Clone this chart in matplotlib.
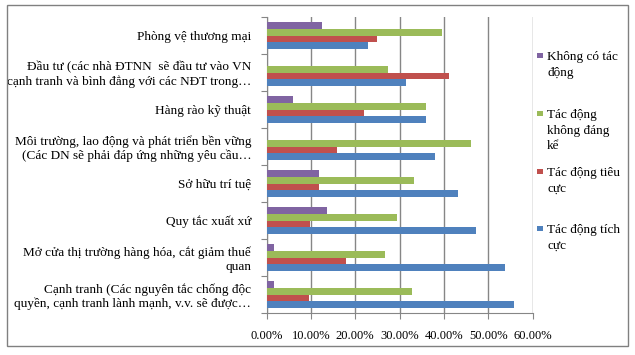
import numpy as np
import matplotlib
matplotlib.use("Agg")
from matplotlib import pyplot as plt
from matplotlib.patches import Rectangle

plt.rcParams['font.family'] = ['Liberation Serif', 'DejaVu Serif']

categories = [
    "Cạnh tranh (Các nguyên tắc chống độc\nquyền, cạnh tranh lành mạnh, v.v. sẽ được…",
    "Mở cửa thị trường hàng hóa, cắt giảm thuế\nquan",
    "Quy tắc xuất xứ",
    "Sở hữu trí tuệ",
    "Môi trường, lao động và phát triển bền vững\n(Các DN sẽ phải đáp ứng những yêu cầu…",
    "Hàng rào kỹ thuật",
    "Đầu tư (các nhà ĐTNN  sẽ đầu tư vào VN\ncạnh tranh và bình đẳng với các NĐT trong…",
    "Phòng vệ thương mại",
]
series_names = ["Tác động tích\ncực", "Tác động tiêu\ncực", "Tác động\nkhông đáng\nkể", "Không có tác\nđộng"]
tich_cuc = [55.8, 53.8, 47.2, 43.2, 38.0, 35.9, 31.4, 22.9]
tieu_cuc = [9.5, 17.9, 9.8, 11.8, 15.9, 22.0, 41.1, 24.9]
khong_dang_ke = [32.8, 26.7, 29.4, 33.2, 46.1, 35.9, 27.4, 39.5]
khong_tac_dong = [1.65, 1.65, 13.6, 11.8, 0, 5.9, 0, 12.5]
colors = ["#4F81BD", "#C0504D", "#9BBB59", "#8064A2"]
xticks = [0, 10, 20, 30, 40, 50, 60]

W, H = 635, 355
fig = plt.figure(figsize=(W / 100, H / 100), dpi=100)
fig.patches.append(Rectangle((7/W, 1-346/H), 621/W, 341/H, transform=fig.transFigure,
                             fill=False, edgecolor="#808080", linewidth=1))
ax = fig.add_axes([266.5/W, 1-313/H, 266/W, 296/H])

y = np.arange(len(categories))
h = 0.18
for i, vals in enumerate([tich_cuc, tieu_cuc, khong_dang_ke, khong_tac_dong]):
    ax.barh(y + (i - 1.5) * h, vals, height=h, color=colors[i], label=series_names[i], zorder=3)

ax.set_xlim(0, 60)
ax.set_ylim(-0.5, len(categories) - 0.5)
ax.set_xticks(xticks)
ax.set_xticklabels(["%.2f%%" % v for v in xticks], fontsize=9)
ax.xaxis.grid(True, color="#868686", linewidth=1, zorder=0)
ax.set_yticks(np.arange(len(categories) + 1) - 0.5)
ax.set_yticklabels([])
ax.set_yticks(y, minor=True)
ax.set_yticklabels(categories, minor=True, fontsize=9.5, ha="right", linespacing=1.2)
ax.tick_params(axis="y", which="minor", length=0, pad=11)
ax.tick_params(axis="y", which="major", length=4, color="#868686")
ax.tick_params(axis="x", length=4, color="#868686", pad=8)
for s in ["top", "right"]:
    ax.spines[s].set_visible(False)
for s in ["left", "bottom"]:
    ax.spines[s].set_color("#868686")

# legend, Excel style: fixed spacing per entry
legend_y = [56, 114, 172, 229]
for k, i in enumerate([3, 2, 1, 0]):
    yc = legend_y[k]
    fig.patches.append(Rectangle((537/W, 1-(yc+2)/H), 5.5/W, 5.5/H, transform=fig.transFigure,
                                 facecolor=colors[i], edgecolor="none"))
    fig.text(547/W, 1-(yc-5)/H, series_names[i], fontsize=9.5, va="top", ha="left", linespacing=1.4)

fig.savefig("out.png", dpi=100)
